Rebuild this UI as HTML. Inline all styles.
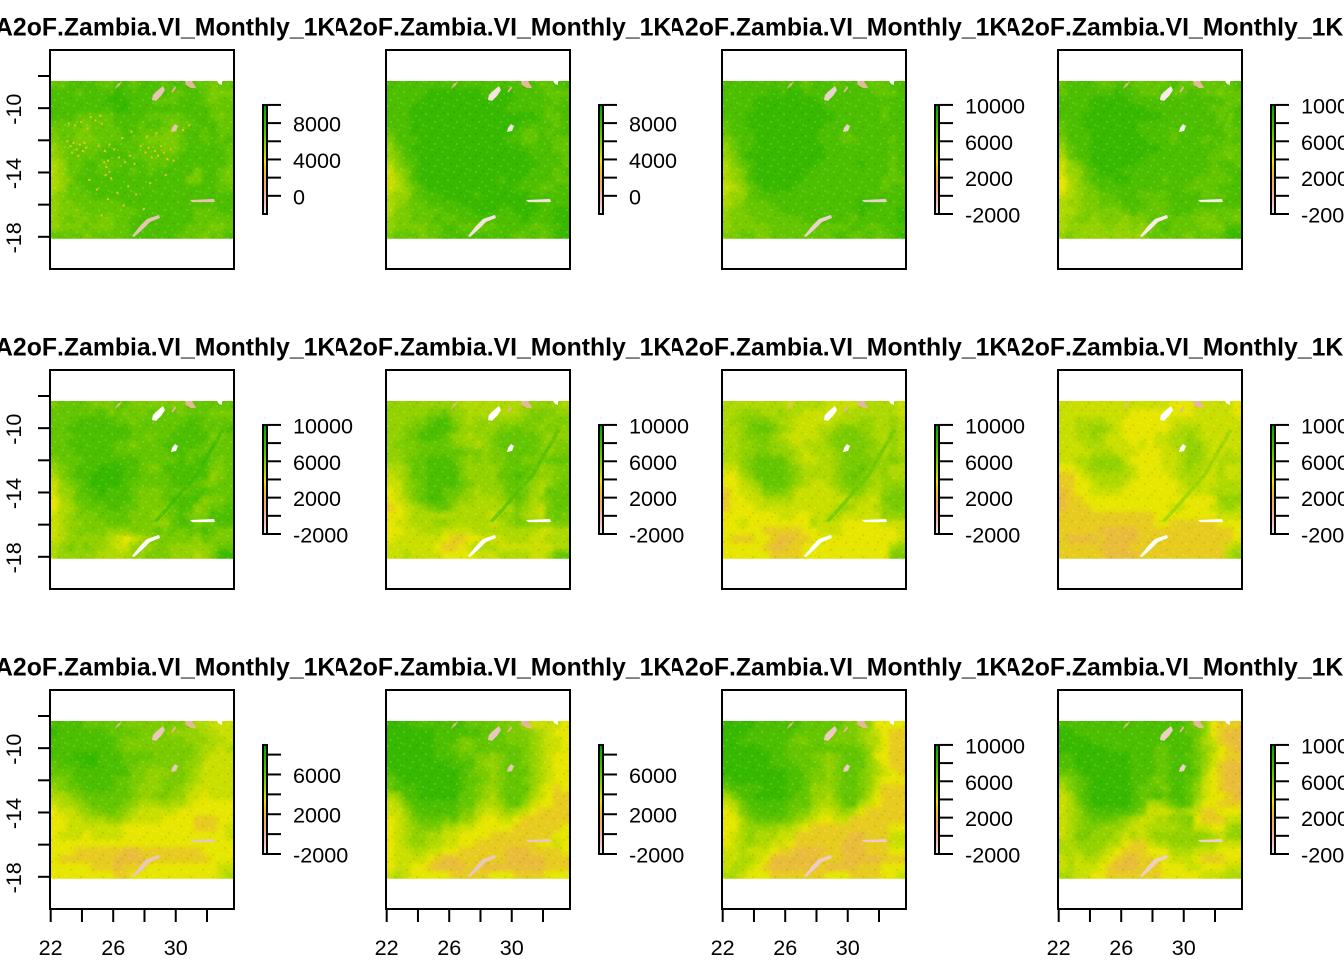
<!DOCTYPE html>
<html lang="en">
<head>
<meta charset="utf-8">
<title>Zambia VI Monthly raster panels</title>
<style>
html,body{margin:0;padding:0;background:#fff;}
svg{display:block;}
text{font-family:"Liberation Sans",Arial,sans-serif;fill:#000;font-kerning:none;}
</style>
</head>
<body>
<svg id="chart" xmlns="http://www.w3.org/2000/svg" width="1344" height="960" viewBox="0 0 1344 960">
  <defs>
    <filter id="rasterSmooth" filterUnits="userSpaceOnUse" x="30" y="60" width="224" height="200" color-interpolation-filters="sRGB">
      <feGaussianBlur stdDeviation="2.2"/>
      <feComponentTransfer><feFuncA type="linear" slope="30"/></feComponentTransfer>
    </filter>
    <clipPath id="rasterClip"><rect x="50.7" y="81" width="182.3" height="157.8"/></clipPath>
    <pattern id="grainTile" patternUnits="userSpaceOnUse" width="22" height="22" shape-rendering="crispEdges">
      <rect x="1" y="3" width="2" height="2" fill="#fff" opacity=".14"/>
      <rect x="7" y="1" width="2" height="2" fill="#000" opacity=".07"/>
      <rect x="13" y="5" width="2" height="2" fill="#fff" opacity=".12"/>
      <rect x="19" y="2" width="2" height="2" fill="#000" opacity=".06"/>
      <rect x="4" y="9" width="2" height="2" fill="#000" opacity=".07"/>
      <rect x="10" y="11" width="2" height="2" fill="#fff" opacity=".14"/>
      <rect x="17" y="9" width="2" height="2" fill="#fff" opacity=".1"/>
      <rect x="1" y="15" width="2" height="2" fill="#fff" opacity=".1"/>
      <rect x="7" y="17" width="2" height="2" fill="#fff" opacity=".13"/>
      <rect x="14" y="16" width="2" height="2" fill="#000" opacity=".07"/>
      <rect x="20" y="14" width="2" height="2" fill="#fff" opacity=".12"/>
      <rect x="11" y="20" width="2" height="2" fill="#000" opacity=".06"/>
      <rect x="18" y="19" width="2" height="2" fill="#fff" opacity=".1"/>
    </pattern>
  </defs>
</svg>
<script>
// Level of each digit used in the raster grids (vegetation index units)
const valueLevels = [2500,3200,4000,4600,5200,5800,6400,7000,7600,8200];

const titleText = "A2oF.Zambia.VI_Monthly_1K";
const lonTicks = [22,24,26,28,30,32];
const lonLabels = [22,26,30];
const latTicks = [-8,-10,-12,-14,-16,-18];
const latLabels = [-10,-14,-18];

const legendRanges = [
 [-2000,10000],[-2000,10000],[-2000,10000],[-2000,10000],
 [-2000,10000],[-2000,10000],[-2000,10000],[-2000,10000],
 [-2000,9000],[-2000,9000],[-2000,10000],[-2000,10000]
];
const legendTicks = [
 [0,2000,4000,6000,8000,10000],[0,2000,4000,6000,8000,10000],
 [-2000,0,2000,4000,6000,8000,10000],[-2000,0,2000,4000,6000,8000,10000],
 [-2000,0,2000,4000,6000,8000,10000],[-2000,0,2000,4000,6000,8000,10000],
 [-2000,0,2000,4000,6000,8000,10000],[-2000,0,2000,4000,6000,8000,10000],
 [-2000,0,2000,4000,6000,8000],[-2000,0,2000,4000,6000,8000],
 [-2000,0,2000,4000,6000,8000,10000],[-2000,0,2000,4000,6000,8000,10000]
];
const legendLabels = [
 [0,4000,8000],[0,4000,8000],
 [-2000,2000,6000,10000],[-2000,2000,6000,10000],
 [-2000,2000,6000,10000],[-2000,2000,6000,10000],
 [-2000,2000,6000,10000],[-2000,2000,6000,10000],
 [-2000,2000,6000],[-2000,2000,6000],
 [-2000,2000,6000,10000],[-2000,2000,6000,10000]
];

const gridR1C1 = [
"77888877887888788877677","88878888988888877887666","88888889998887778887677","88888888998888888888777",
"88877777888877777888767","77776777888788767788877","67766777788777667887877","67766677787766667887878",
"56777778878777667888887","56777788887777778888887","45778877788877788888887","45778878887878888868876",
"45688888888888888668876","45778888888888888888877","56777888888888888888888","56677777788888888888888",
"56667777777888888877788","56766766778888888877777","56667666778888888777667","77776777778888887776778"];
const gridR1C2 = [
"88888888888888888887788","88888999999988998888777","88889999999999998888878","88899999999999988888788",
"88899999999999999998778","88899999999999999888878","78899999999999998778788","68889999999999988778877",
"57899999999999999888877","56889999999999999988887","46789999999999999998887","35689999999999999988878",
"34689999999999899888877","34578999999999998887788","45578889999899999988888","45677888899999999998888",
"46677778888999889998899","56677787788888888988899","56666778877777888877889","67776778888888887787799"];
const gridR1C3 = [
"88888888887888788877788","88888898998888888887778","88889999999988888888888","88889999999998888888788",
"88899999999999888888788","78899999999998888888888","78889999999988878888888","67889999999988877888878",
"57889999999998888888888","56899999999998888888878","46789999999988888988878","45689999999888888888878",
"45689999998888888888777","34578999988888888888788","45578888888888888888888","45677788888888888998888",
"56677778888888888988889","56667777778888887888889","56666677777777778877888","66776677777777887787789"];
const gridR1C4 = [
"78888778877777877777778","78888889887778778877677","88889999988888888888877","88889999999888888887778",
"88899999999998888888768","78899999998888888888778","78889999998888788888877","68889999999888788877878",
"57889999999998888888777","47889999999888888887767","35689999998888888887887","35578999888888888887788",
"24578889988887888777778","24567888888888887777888","34566778887777888877788","45566777888777888888888",
"44566666787777888777777","45665666566777777666776","45555565565678777766688","56555555555777776777799"];
const gridR2C1 = [
"67777666776666666777777","77777786767677776777666","77788888776777777887777","77888888887777778887778",
"77788888887767788888667","77888888776777888887777","77788888777777788777777","67778888888777778788767",
"56788899988766888888667","46788999988777788888567","35678999987777788876677","35578898887666777788777",
"24577888887666788885667","24467778877666678856778","34566677776665678666888","34556667776665578867788",
"34566665556667676778766","34555554323456666657666","45656554335556655555677","45555544445566655545699"];
const gridR2C2 = [
"55555555544444444555554","55555667554444444566655","55566788654555555666566","55667888755555667665665",
"55678887554556777776555","56667777655456777776566","55667777776656677776566","55677888765656677666777",
"44577888865555677775566","34577888865555778765566","33567888876555677654567","23567887765455577654777",
"23467887655444567645677","12345677544444446543677","22344444444443556443676","23344455444443456655566",
"22334443333444444443344","23333332112233344433444","33333321123444333333344","33433332222333444433477"];
const gridR2C3 = [
"44444444344443333444443","44555445443333344444443","45566654433333444554454","44567765433344566554454",
"44566654333345666654454","44556655434445666665454","44556655543444566655454","44567777543344566665565",
"33567777654444566765544","22457777654444567654544","22345777654334566654555","12334666533333456544566",
"12233444433333334433666","12223333333333454334566","22222223322334433333555","22322222222433322222333",
"22222111112233322222223","21112210011222222222223","22222100112222222222245","22222211112222222222266"];
const gridR2C4 = [
"33333333333333222333332","33333333322222222333332","33444433222222333333333","33445543222222344433333",
"33445433222233445433333","33344433323233445543333","33334443332223345543343","33445555322223345543444",
"22345555432223345443433","11234444432222344433433","11223444322222234433444","01223333222222233334444",
"01122222222222222222555","01112222222222332223454","11111111111122222222333","11111111111122111111222",
"11111000001111111111112","10000100001111111111112","11111000011111111111134","11111100001111111111145"];
const gridR3C1 = [
"88887777766666666544333","98888887777666655554433","88888888766666666555443","88888888766666666654434",
"88899988877776666654333","78889988877666666553333","77788888886655566543333","66788888776655666543333",
"56778888776555665433333","44567777776556655332333","34456777765444544322222","23345667654333332222222",
"22334445543333222211122","22333333322222222211123","23332333322222222222223","22222222222222222222222",
"22211111100111111112222","21111111000011111111222","22222111011122222222233","22222222112222222222234"];
const gridR3C2 = [
"99988888887777666433332","99999988888877766654322","99999988866777766654332","99999988766777777654332",
"99999988877665677654322","99999999888655677654322","89999999987665677754322","78999999987765677654322",
"78889999987655677753212","45889999977654677643211","34688888877544577532211","33578888866433454321111",
"23467776755322332111111","23456664433222221111112","23455443322221111111122","23455443322111111112232",
"23344332211111100011112","23333210011111100000111","23322100001100000000111","34322222111112221111222"];
const gridR3C3 = [
"99998888887777766552222","99988888877777666543211","99888888766776666544211","99999888777777777653211",
"99999988777665677752211","99999988877765677754211","99999999887665677654321","89999999887665677653222",
"78888999887555677653111","46889999877554677642111","34688888777544577432111","23678888766433454211111",
"22467777654322331111111","22455554432111111111122","23454443311111110011133","23454433211111100011133",
"33433321100001100011122","33443200000011100000111","34432100000010000111222","44322211111112221111223"];
const gridR3C4 = [
"88888888888888887652111","99888888888888887752100","99998888888888888643100","99999988888877888654210",
"88999999988877887753211","88999999988877888653100","77899999988877888742100","56789999988767887632100",
"46789999987776887532100","34789999987787887532210","34689999987445787422111","34578888876333454311222",
"34567776543344556211133","34566555433444455332245","34665554343455555554355","44555544211344555544333",
"44455432111222444333222","34344321001122333211122","34333210001112223322233","44332211111112222233344"];

const panelGrids = [gridR1C1,gridR1C2,gridR1C3,gridR1C4,gridR2C1,gridR2C2,gridR2C3,gridR2C4,gridR3C1,gridR3C2,gridR3C3,gridR3C4];

// Lake and reservoir outlines in longitude / latitude
const lakeMweru = [[28.87,-8.87],[29.18,-8.62],[29.31,-8.87],[29.06,-9.24],[28.74,-9.55],[28.48,-9.49],[28.54,-9.18]];
const lakeBangweulu = [[29.76,-11.23],[29.95,-10.99],[30.14,-11.11],[30.02,-11.42],[29.7,-11.48]];
const lakeCahoraBassa = [[30.91,-15.71],[32.45,-15.65],[32.51,-15.84],[31.04,-15.84]];
const lakeKariba = [[27.2,-17.95],[27.71,-17.33],[28.16,-16.89],[28.93,-16.64],[28.99,-16.83],[28.35,-17.08],[27.84,-17.58],[27.33,-18.01]];
const seasonalLakes = [lakeMweru,lakeBangweulu,lakeCahoraBassa,lakeKariba];
const lakeColors = ["#E8C4B4","#F4E4E0","#E8D4CC","#F8ECEC","#FFFFFF","#FFFFFF","#FFFFFF","#FFFFFF","#E8C8BC","#E8C8BC","#ECCCC4","#ECD0C8"];

const lakeTanganyikaTail = [[29.7,-9.0],[29.95,-8.62],[30.02,-8.75],[29.83,-9.0]];
const lakeNorthEast = [[30.59,-8.31],[31.04,-8.31],[31.3,-8.75],[30.98,-8.75],[30.65,-8.56]];
const lakeNorthStrip = [[26.56,-8.31],[26.43,-8.56],[26.11,-8.81],[26.24,-8.56]];
const tanLakes = [lakeTanganyikaTail,lakeNorthEast,lakeNorthStrip];
const tanLakeColor = "#E4B898";

const lakeNorthCorner = [[32.64,-8.31],[32.96,-8.31],[32.96,-8.56],[32.77,-8.5]];

// Luangwa valley course and its index value in each month
const valleyCourse = [[28.67,-15.84],[29.95,-14.47],[31.42,-12.79],[32.51,-10.92],[33.02,-10.11]];
const valleyValues = [null,null,null,7600,8000,7400,6800,5800,null,null,null,null];

// Orange speckle pixels visible in the first month (longitude, latitude)
const speckleCoords = [
[23.0,-12.0],[23.2,-12.3],[23.4,-12.1],[23.6,-12.5],[23.8,-12.2],[24.0,-12.6],[24.2,-12.4],[23.3,-12.7],[23.7,-12.9],[24.1,-12.1],
[24.5,-10.5],[24.8,-10.7],[25.1,-10.4],[25.2,-10.9],[23.1,-10.9],[23.5,-11.0],[23.9,-10.8],[24.3,-11.2],[25.0,-12.3],[25.4,-12.6],
[25.7,-12.2],[26.0,-12.5],[25.35,-13.3],[25.5,-13.6],[25.7,-13.9],[25.45,-14.1],[25.8,-14.3],[25.6,-13.2],[26.3,-13.0],[26.7,-13.3],
[27.0,-12.9],[27.3,-13.4],[27.7,-12.3],[28.0,-12.7],[28.2,-12.4],[28.4,-13.0],[28.6,-12.6],[28.8,-12.9],[29.0,-12.3],[29.2,-12.7],
[29.4,-13.1],[29.6,-12.5],[29.8,-13.2],[28.1,-11.7],[28.7,-11.5],[27.1,-11.4],[26.5,-11.8],[30.4,-11.3],[30.8,-11.0],[26.9,-14.8],
[26.2,-15.2],[25.6,-15.6],[27.4,-15.3],[28.3,-14.6],[29.3,-14.1],[24.9,-15.0],[24.4,-14.4],[26.6,-16.0],[27.9,-16.2],[25.2,-16.6]
];
const speckleValue = 2800;

const svg = document.getElementById('chart');
const NS = 'http://www.w3.org/2000/svg';
const figureWidth = 336, figureHeight = 320;
const columnsPerRow = 4;

// Axis functions (figure-local pixels)
function xScale(lon){ return 50.7 + (lon - 22) * 15.63; }
function yScale(lat){ return 76 + (-8 - lat) * 16.08; }
const rasterLonMin = 22, rasterLonMax = 33.66, rasterLatMax = -8.31, rasterLatMin = -18.12;
function legendY(value, range){
  const pxPer1000 = range[1] === 9000 ? 9.94 : 9.09;
  return 214 - (value - range[0]) / 1000 * pxPer1000;
}

function hsv(h, s, v){
  const c = v * s, hp = h / 60, x = c * (1 - Math.abs(hp % 2 - 1)), m = v - c;
  let r = 0, g = 0, b = 0;
  if (hp < 1) { r = c; g = x; } else { r = x; g = c; }
  return 'rgb(' + Math.round((r + m) * 255) + ',' + Math.round((g + m) * 255) + ',' + Math.round((b + m) * 255) + ')';
}
function terrainColor(value){
  const t = Math.min(1, Math.max(0, (10000 - value) / 12000));
  if (t <= 0.5) return hsv(120 - 120 * t, 1, 0.65 + 0.5 * t);
  const u = (t - 0.5) * 2;
  return hsv(60 - 60 * u, 1 - u, 0.9 + 0.05 * u);
}
function make(tag, attrs, parent){
  const el = document.createElementNS(NS, tag);
  for (const k in attrs) el.setAttribute(k, attrs[k]);
  parent.appendChild(el);
  return el;
}
function lakePoints(lake){
  return lake.map(function(p){ return xScale(p[0]) + ',' + yScale(p[1]); }).join(' ');
}

panelGrids.forEach(function(grid, index){
  const col = index % columnsPerRow, row = Math.floor(index / columnsPerRow);
  const isLeft = col === 0, isBottom = row === panelGrids.length / columnsPerRow - 1;
  const panel = make('g', {transform: 'translate(' + (col * figureWidth) + ',' + (row * figureHeight) + ')'}, svg);
  
  

  // Title clipped to figure region
  const clipId = 'figclip' + index;
  const defs = make('defs', {}, panel);
  const clip = make('clipPath', {id: clipId}, defs);
  make('rect', {x: 0, y: 0, width: figureWidth, height: figureHeight}, clip);
  const titleGroup = make('g', {'clip-path': 'url(#' + clipId + ')'}, panel);
  const title = make('text', {x: -5, y: 35.3, 'font-size': 24.8, 'font-weight': 'bold'}, titleGroup);
  
  
  title.textContent = titleText;

  // Raster cells (clipped outer group, smoothed inner group)
  const rasterClip = make('g', {'clip-path': 'url(#rasterClip)'}, panel);
  
  
  const raster = make('g', {filter: 'url(#rasterSmooth)'}, rasterClip);
  const nRows = grid.length, nCols = grid[0].length;
  const cellLon = (rasterLonMax - rasterLonMin) / nCols, cellLat = (rasterLatMax - rasterLatMin) / nRows;
  grid.forEach(function(line, r){
    for (let c = 0; c < nCols; c++) {
      const value = valueLevels[+line[c]];
      const x0 = xScale(rasterLonMin + c * cellLon), x1 = xScale(rasterLonMin + (c + 1) * cellLon);
      const y0 = yScale(rasterLatMax - r * cellLat), y1 = yScale(rasterLatMax - (r + 1) * cellLat);
      const cell = make('rect', {x: x0, y: y0, width: x1 - x0 + 0.5, height: y1 - y0 + 0.5, fill: terrainColor(value), 'shape-rendering': 'crispEdges'}, raster);
      
      
    }
  });

  // Valley course
  if (valleyValues[index] !== null) {
    const valley = make('polyline', {points: lakePoints(valleyCourse), fill: 'none', stroke: terrainColor(valleyValues[index]), 'stroke-width': 3.5, 'stroke-opacity': 0.7}, rasterClip);
    
    
  }

  // Grain overlay
  const grain = make('rect', {x: 50, y: 81, width: 184, height: 158, fill: 'url(#grainTile)'}, rasterClip);
  
  

  // First-month speckle pixels
  if (index === 0) {
    speckleCoords.forEach(function(p){
      const sp = make('rect', {x: xScale(p[0]), y: yScale(p[1]), width: 2, height: 2, fill: terrainColor(speckleValue)}, rasterClip);
      
      
    });
  }

  // Water bodies
  seasonalLakes.forEach(function(lake){
    const poly = make('polygon', {points: lakePoints(lake), fill: lakeColors[index]}, panel);
    
    
  });
  tanLakes.forEach(function(lake){
    const poly = make('polygon', {points: lakePoints(lake), fill: tanLakeColor}, panel);
    
    
  });
  const corner = make('polygon', {points: lakePoints(lakeNorthCorner), fill: '#FFFFFF'}, panel);
  
  

  // Plot frame
  const frame = make('rect', {x: 50, y: 50, width: 184, height: 219, fill: 'none', stroke: '#000', 'stroke-width': 2}, panel);
  
  

  // Y axis
  if (isLeft) {
    latTicks.forEach(function(lat){
      const tick = make('line', {x1: 38, x2: 50, y1: yScale(lat), y2: yScale(lat), stroke: '#000', 'stroke-width': 2}, panel);
      
      
    });
    latLabels.forEach(function(lat){
      const y = yScale(lat) + 1;
      const label = make('text', {x: 21, y: y, 'font-size': 21.6, 'text-anchor': 'middle', transform: 'rotate(-90 21 ' + y + ')'}, panel);
      
      
      label.textContent = lat;
    });
  }

  // X axis
  if (isBottom) {
    lonTicks.forEach(function(lon){
      const tick = make('line', {x1: xScale(lon), x2: xScale(lon), y1: 269, y2: 282, stroke: '#000', 'stroke-width': 2}, panel);
      
      
    });
    lonLabels.forEach(function(lon){
      const label = make('text', {x: xScale(lon), y: 315, 'font-size': 21.6, 'text-anchor': 'middle'}, panel);
      
      
      label.textContent = lon;
    });
  }

  // Legend
  const range = legendRanges[index];
  const legend = make('g', {}, panel);
  
  
  const topY = 105, botY = 214, steps = 60;
  for (let i = 0; i < steps; i++) {
    const frac0 = i / steps;
    const seg = make('rect', {x: 263, y: topY + frac0 * (botY - topY), width: 4, height: (botY - topY) / steps + 0.5, fill: terrainColor(10000 - frac0 * 12000), 'shape-rendering': 'crispEdges'}, legend);
    
    
  }
  const barFrame = make('rect', {x: 263, y: topY, width: 4, height: botY - topY, fill: 'none', stroke: '#000', 'stroke-width': 2}, legend);
  
  
  legendTicks[index].forEach(function(v){
    const tick = make('line', {x1: 267, x2: 281, y1: legendY(v, range), y2: legendY(v, range), stroke: '#000', 'stroke-width': 2}, legend);
    
    
  });
  legendLabels[index].forEach(function(v){
    const label = make('text', {x: 293, y: legendY(v, range) + 8.5, 'font-size': 21.6}, legend);
    
    
    label.textContent = v;
  });
});
</script>
</body>
</html>
